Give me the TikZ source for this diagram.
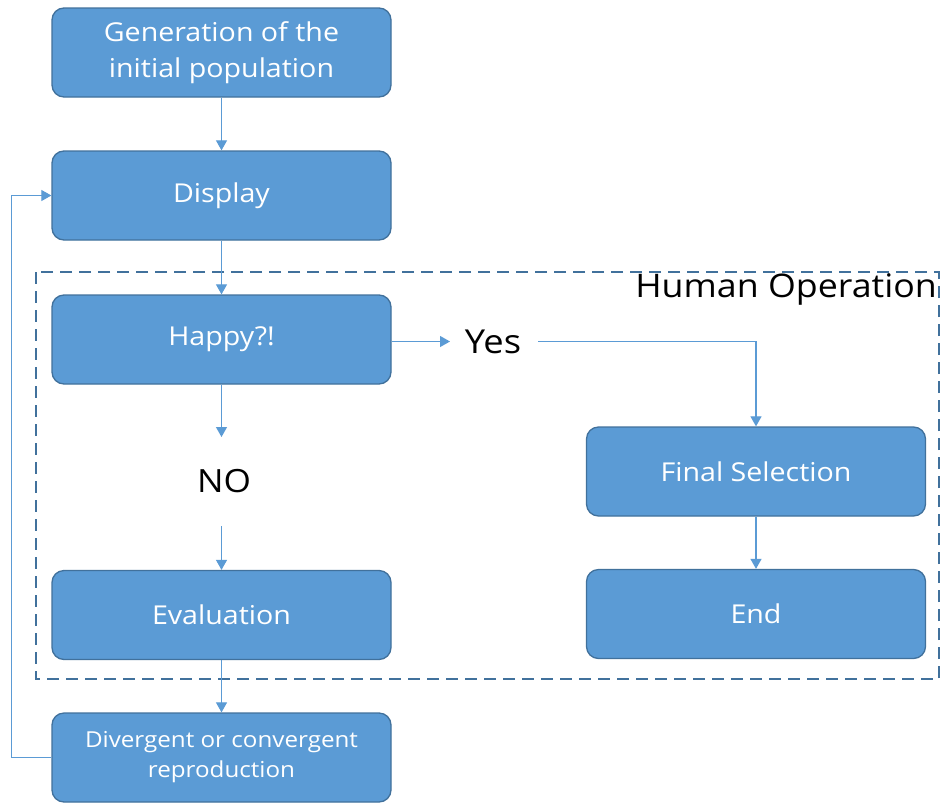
\documentclass[tikz,border=0pt]{standalone}
\usepackage{fontspec}
\setmainfont[FakeStretch=1.1]{Open Sans}
\usetikzlibrary{arrows.meta}
\definecolor{boxfill}{HTML}{5B9BD5}
\definecolor{boxedge}{HTML}{41719C}
\definecolor{dashcol}{HTML}{41719C}
\begin{document}
\begin{tikzpicture}[x=1pt,y=-1pt,
  box/.style={draw=boxedge, line width=1.3pt, fill=boxfill, rounded corners=12pt,
    minimum width=339pt, minimum height=89pt, text=white, align=center,
    font=\fontsize{26}{36}\selectfont, inner sep=0pt},
  conn/.style={draw=boxfill, line width=1.1pt},
  arr/.style={conn, -{Triangle[length=10pt,width=11pt]}},
  lbl/.style={font=\fontsize{33}{36}\selectfont, text=black, inner sep=0pt}]
\useasboundingbox (0,0) rectangle (941,803);
\fill[white] (0,0) rectangle (941,803);
% dashed region
\draw[dashcol, line width=1.3pt, dash pattern=on 12pt off 7pt] (36,272) rectangle (939,679);
\node[lbl, font=\fontsize{32.5}{36}\selectfont, anchor=east] (human) at (937,289) {Human Operation};
% boxes
\node[box] (gen) at (221.5,52.5) {Generation of the\\initial population};
\node[box] (disp) at (221.5,195.5) {Display};
\node[box] (happy) at (221.5,339.5) {Happy?!};
\node[box] (eval) at (221.5,615) {Evaluation};
\node[box, font=\fontsize{22}{30}\selectfont] (div) at (221.5,757.5) {Divergent or convergent\\reproduction};
\node[box] (final) at (756,471.5) {Final Selection};
\node[box] (end) at (756,614) {End};
% labels
\node[lbl] (yes) at (493,342) {Yes};
\node[lbl, font=\fontsize{32}{36}\selectfont] (no) at (224,481) {NO};
\coordinate (yesarr) at (450,341.5);
\coordinate (noarr) at (221.5,437);
\coordinate (noout) at (221.5,526);
\coordinate (yesout) at (538,341.5);
% connectors
\draw[arr] (gen) -- (disp);
\draw[arr] (disp) -- (happy);
\draw[arr] (happy.east |- yesarr) -- (yesarr);
\draw[arr] (happy) -- (noarr);
\draw[arr] (noout) -- (eval);
\draw[arr] (yesout) -| (final.north);
\draw[arr] (final) -- (end);
\draw[arr] (eval) -- (div);
\draw[arr] (div.west) -- ++(-40,0) |- (disp.west);
\end{tikzpicture}
\end{document}
